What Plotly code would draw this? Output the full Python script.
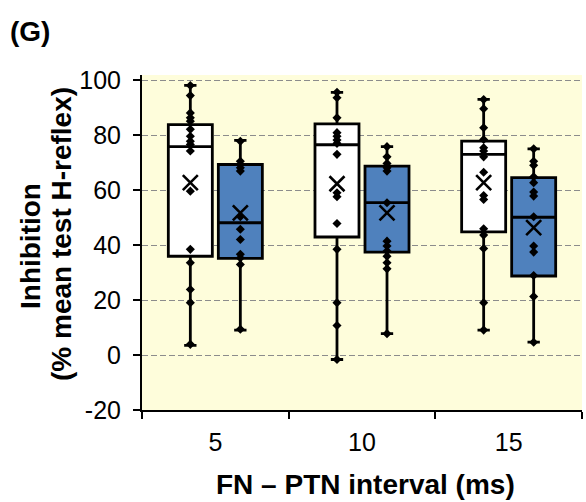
import plotly.graph_objects as go

# ---------------- data ----------------
categories = ["5", "10", "15"]

# white boxes (first series)
white_lower = [3.5, -1.6, 9.1]
white_q1 = [36.0, 43.0, 44.9]
white_median = [75.9, 76.6, 73.1]
white_q3 = [83.9, 84.2, 77.9]
white_upper = [98.2, 95.7, 93.1]
white_mean = [62.8, 62.4, 62.8]

# blue boxes (second series)
blue_lower = [9.1, 7.8, 4.7]
blue_q1 = [35.2, 37.5, 28.8]
blue_median = [48.2, 55.5, 50.2]
blue_q3 = [69.4, 68.8, 64.6]
blue_upper = [78.2, 75.9, 75.1]
blue_mean = [51.8, 51.8, 46.4]

# individual subjects
white_pts_5 = [98.2, 94.5, 88.2, 86.4, 85.2, 82.2, 79.7, 77.9, 76.7, 74.3,
               59.7, 38.5, 33.6, 23.9, 19.1, 3.9]
white_pts_10 = [95.7, 93.7, 86.4, 81.0, 79.7, 78.3, 77.1, 73.1, 59.1, 57.7,
                47.9, 38.5, 19.1, 10.8, -1.6]
white_pts_15 = [93.1, 89.7, 82.8, 78.5, 75.5, 74.3, 72.2, 66.6, 58.1, 56.7,
                46.0, 43.7, 38.8, 19.1, 9.1]
blue_pts_5 = [77.9, 70.6, 69.4, 68.2, 67.0, 50.4, 45.8, 42.1, 36.7, 35.4,
              33.0, 9.4]
blue_pts_10 = [75.9, 72.2, 69.8, 68.2, 67.0, 55.5, 41.5, 39.7, 37.9, 36.0,
               33.6, 31.4, 7.8]
blue_pts_15 = [75.1, 70.6, 69.1, 64.9, 62.8, 59.4, 57.9, 50.4, 39.7, 37.5,
               29.0, 21.3, 4.7]

y_tickvals = [-20, 0, 20, 40, 60, 80, 100]
y_ticktext = ["-20", "0", "20", "40", "60", "80", "100"]

# ---------------- styles ----------------
FONT = "Liberation Sans, Arial, sans-serif"
BLUE = "#4F81BD"
BG = "#FEFDDB"

fig = go.Figure()


def stats_box(name, lower, q1, med, q3, upper, fill, group):
    fig.add_trace(go.Box(
        name=name, x=categories, lowerfence=lower, q1=q1, median=med,
        q3=q3, upperfence=upper, boxpoints=False,
        fillcolor=fill, line=dict(color="black", width=2.8),
        whiskerwidth=0.28, offsetgroup=group, alignmentgroup="all",
        showlegend=False, hoverinfo="skip"))


def point_box(pts_lists, group, symbol, size, lw):
    xs, ys = [], []
    for cat, pts in zip(categories, pts_lists):
        xs += [cat] * len(pts)
        ys += list(pts)
    fig.add_trace(go.Box(
        x=xs, y=ys, boxpoints="all", jitter=0, pointpos=0,
        fillcolor="rgba(0,0,0,0)", line=dict(color="rgba(0,0,0,0)", width=0),
        whiskerwidth=0,
        marker=dict(symbol=symbol, size=size, color="black",
                    line=dict(color="black", width=lw)),
        offsetgroup=group, alignmentgroup="all",
        showlegend=False, hoverinfo="skip"))


stats_box("white", white_lower, white_q1, white_median, white_q3,
          white_upper, "white", "w")
stats_box("blue", blue_lower, blue_q1, blue_median, blue_q3,
          blue_upper, BLUE, "b")

point_box([white_pts_5, white_pts_10, white_pts_15], "w", "diamond", 7, 0)
point_box([blue_pts_5, blue_pts_10, blue_pts_15], "b", "diamond", 7, 0)
point_box([[v] for v in white_mean], "w", "x-thin", 15, 2.6)
point_box([[v] for v in blue_mean], "b", "x-thin", 15, 2.6)

fig.update_layout(
    width=586, height=502,
    margin=dict(l=142, r=4, t=75, b=92),
    paper_bgcolor="white", plot_bgcolor=BG,
    boxmode="group", boxgap=0.318, boxgroupgap=0.12,
    font=dict(family=FONT, color="black"),
    showlegend=False,
    xaxis=dict(type="category", range=[-0.5, 2.5], tickson="boundaries",
               ticks="outside", ticklen=7, tickwidth=2, tickcolor="black",
               showline=True, linewidth=2, linecolor="black",
               showgrid=False, zeroline=False,
               tickfont=dict(size=25, family=FONT, color="black"),
               ticklabelstandoff=9),
    yaxis=dict(range=[-20, 102], tickvals=y_tickvals, ticktext=y_ticktext,
               ticks="outside", ticklen=7, tickwidth=2, tickcolor="black",
               showline=True, linewidth=2, linecolor="black",
               showgrid=True, gridcolor="#8C8C8C", gridwidth=1,
               griddash="6px,3px", zeroline=False,
               tickfont=dict(size=25, family=FONT, color="black"),
               ticklabelstandoff=7),
)

annos = [
    dict(text="FN – PTN interval (ms)", x=0.509, y=-0.2235,
         textangle=0),
    dict(text="Inhibition", x=(30 - 142) / 440, y=(410 - 246) / 335,
         textangle=-90),
    dict(text="(% mean test H-reflex)", x=(61 - 142) / 440,
         y=(410 - 234) / 335, textangle=-90),
    dict(text="(G)", x=(30 - 142) / 440, y=(410 - 32) / 335, textangle=0),
]
for a in annos:
    fig.add_annotation(xref="paper", yref="paper", showarrow=False,
                       xanchor="center", yanchor="middle",
                       font=dict(family=FONT, size=28, color="black",
                                 weight="bold"), **a)

fig.write_html("out.html")
